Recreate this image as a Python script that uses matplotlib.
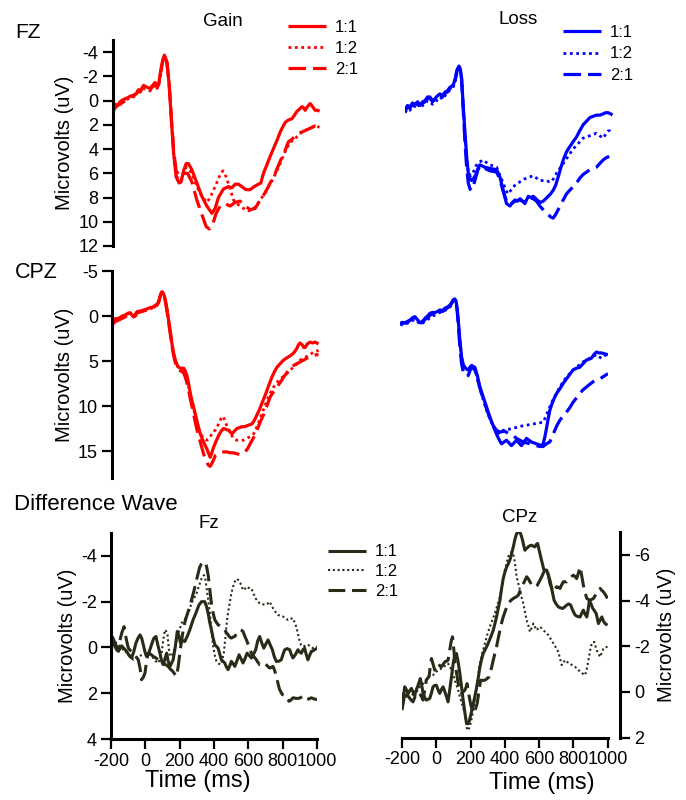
import matplotlib
matplotlib.use("Agg")
import matplotlib.pyplot as plt

plt.rcParams['font.family'] = ['Liberation Sans', 'DejaVu Sans']

# ---------------- data (time ms, microvolts) ----------------
gain_fz_11 = [(-200,0.6),(-185,0.3),(-170,0.4),(-156,0.1),(-135,-0.1),(-117,-0.2),(-98,-0.35),(-78,-0.45),(-60,-0.6),(-50,-0.9),(-40,-0.8),(-30,-1.0),(-20,-1.25),(0,-1.1),(18,-1.0),(35,-1.3),(47,-1.5),(58,-1.2),(67,-1.3),(80,-2.5),(92,-3.4),(101,-3.75),(115,-3.2),(128,-1.4),(140,1.3),(154,4.3),(169,6.3),(186,6.8),(198,6.7),(212,5.8),(227,5.2),(240,5.2),(260,5.7),(289,6.8),(318,7.9),(347,8.7),(376,9.3),(395,8.9),(414,8.0),(443,7.3),(472,7.1),(492,7.2),(511,6.9),(530,6.9),(550,7.1),(573,7.35),(598,7.35),(621,7.1),(646,6.9),(660,6.8),(675,6.0),(695,5.3),(714,4.6),(735,3.9),(753,3.3),(775,2.5),(801,1.8),(820,1.6),(840,1.5),(855,1.2),(869,0.9),(884,0.7),(898,0.5),(908,0.6),(917,0.8),(930,0.5),(946,0.25),(960,0.5),(975,0.8),(990,0.8),(1000,0.9)]
gain_fz_12 = [(-200,0.9),(-185,0.5),(-170,0.3),(-156,0.2),(-135,0.0),(-117,-0.1),(-98,-0.2),(-78,-0.3),(-60,-0.5),(-45,-1.0),(-35,-0.7),(-20,-1.0),(0,-0.9),(18,-0.8),(35,-1.1),(47,-1.3),(58,-1.0),(67,-1.2),(80,-2.2),(92,-3.2),(103,-3.6),(117,-3.0),(130,-1.2),(142,1.6),(156,4.5),(170,6.2),(186,6.6),(198,6.5),(212,5.9),(227,5.5),(240,5.6),(260,6.0),(289,7.1),(318,7.9),(347,8.4),(366,8.0),(395,7.1),(424,6.1),(440,5.8),(459,6.3),(482,7.3),(501,8.2),(530,8.6),(559,8.9),(588,9.1),(613,9.0),(637,8.6),(666,8.0),(695,7.35),(733,6.4),(772,5.2),(801,4.2),(830,3.4),(849,3.3),(868,3.0),(897,2.6),(926,2.4),(955,2.2),(980,2.1),(1000,2.2)]
gain_fz_21 = [(-200,1.0),(-185,0.6),(-170,0.4),(-156,0.3),(-135,0.1),(-117,-0.1),(-98,-0.3),(-78,-0.4),(-60,-0.6),(-50,-0.8),(-40,-0.7),(-25,-1.1),(0,-1.0),(18,-0.9),(35,-1.2),(47,-1.4),(58,-1.1),(67,-1.3),(80,-2.4),(92,-3.3),(102,-3.7),(116,-3.1),(129,-1.3),(141,1.4),(155,4.2),(169,5.8),(192,6.3),(212,6.0),(235,6.0),(260,6.7),(289,8.2),(318,9.4),(343,10.4),(362,10.6),(381,10.2),(401,9.3),(424,8.7),(453,8.5),(482,8.7),(511,8.4),(540,8.3),(569,8.7),(598,9.0),(627,8.9),(656,8.2),(685,7.6),(714,6.8),(743,6.0),(772,5.0),(801,4.1),(820,3.4),(840,3.2),(868,2.8),(897,2.6),(936,2.35),(974,2.1),(1000,2.2)]

loss_fz_11 = [(-200,0.7),(-185,0.4),(-171,0.55),(-157,0.2),(-142,0.3),(-127,0.1),(-113,0.4),(-98,0.1),(-84,0.0),(-70,-0.3),(-56,-0.3),(-41,0.0),(-27,-0.15),(-12,-0.4),(2,-0.55),(17,-0.4),(31,-0.7),(45,-0.8),(60,-1.1),(72,-1.2),(82,-1.4),(92,-1.9),(100,-2.5),(112,-2.85),(120,-2.6),(127,-1.9),(137,0.5),(147,2.7),(157,4.7),(166,6.0),(176,6.5),(185,6.6),(198,6.4),(210,6.1),(222,5.6),(233,5.3),(262,5.5),(291,5.6),(330,5.7),(349,6.3),(368,7.4),(387,8.5),(407,8.7),(422,8.4),(436,8.2),(450,8.3),(465,8.1),(480,8.3),(493,8.5),(503,8.2),(513,7.9),(528,8.0),(542,7.9),(557,8.1),(571,8.3),(585,8.4),(599,8.3),(614,8.1),(628,7.9),(642,7.7),(657,7.4),(671,7.0),(686,6.3),(700,5.6),(715,4.9),(735,4.2),(753,3.8),(772,3.4),(792,3.0),(810,2.5),(830,2.0),(850,1.7),(869,1.4),(888,1.3),(907,1.2),(926,1.2),(946,1.1),(960,1.0),(975,1.0),(990,1.1),(1000,1.2)]
loss_fz_12 = [(-200,1.0),(-185,0.7),(-171,0.8),(-157,0.4),(-142,0.5),(-127,0.3),(-113,0.6),(-98,0.4),(-84,0.3),(-70,0.0),(-56,0.1),(-41,0.3),(-27,0.2),(-12,-0.1),(2,-0.3),(17,-0.1),(31,-0.4),(45,-0.6),(60,-0.9),(72,-1.0),(82,-1.2),(92,-1.7),(100,-2.3),(112,-2.7),(120,-2.5),(128,-1.7),(138,0.7),(148,3.0),(158,5.0),(168,6.0),(180,6.2),(195,5.9),(210,5.4),(225,5.1),(240,5.0),(252,4.9),(270,5.1),(291,5.3),(312,5.4),(330,5.5),(349,6.2),(368,6.8),(383,7.4),(397,7.7),(412,7.4),(426,7.1),(446,6.9),(465,6.7),(484,6.5),(503,6.4),(522,6.3),(542,6.2),(561,6.4),(580,6.6),(599,6.6),(619,6.6),(633,6.7),(647,6.7),(661,6.4),(676,6.0),(695,5.6),(715,5.2),(734,4.8),(753,4.4),(772,4.0),(792,3.7),(811,3.4),(830,3.1),(850,3.0),(869,2.9),(888,2.8),(907,2.7),(926,2.9),(946,3.1),(960,2.8),(975,2.5),(985,2.5),(994,2.7)]
loss_fz_21 = [(-200,0.8),(-185,0.6),(-171,0.6),(-157,0.3),(-142,0.4),(-127,0.2),(-113,0.5),(-98,0.2),(-84,0.1),(-70,-0.2),(-56,-0.2),(-41,0.1),(-27,-0.1),(-12,-0.3),(2,-0.5),(17,-0.3),(31,-0.6),(45,-0.7),(60,-1.0),(72,-1.1),(82,-1.3),(92,-1.8),(100,-2.4),(112,-2.8),(120,-2.6),(127,-1.8),(137,0.8),(147,3.5),(157,5.6),(166,6.8),(176,7.3),(185,7.4),(198,6.9),(210,6.3),(222,5.7),(233,5.4),(262,5.6),(291,5.8),(330,5.9),(349,6.5),(368,7.5),(387,8.3),(407,8.6),(436,8.3),(465,8.2),(493,8.4),(513,8.0),(542,8.1),(561,8.3),(580,8.7),(599,9.0),(614,9.2),(628,9.4),(642,9.6),(657,9.7),(671,9.4),(686,9.0),(700,8.6),(715,8.2),(734,7.7),(753,7.4),(772,7.1),(792,6.8),(811,6.4),(830,6.1),(850,5.9),(869,5.7),(888,5.6),(907,5.5),(926,5.2),(946,4.9),(965,4.7),(984,4.6),(1000,4.5)]

gain_cpz_11 = [(-200,0.6),(-180,0.3),(-161,0.26),(-140,0.0),(-123,-0.1),(-108,-0.3),(-94,-0.37),(-84,-0.1),(-74,0.07),(-64,-0.2),(-55,-0.48),(-35,-0.55),(-16,-0.67),(4,-0.8),(23,-0.93),(38,-1.0),(52,-1.2),(62,-1.3),(71,-1.6),(78,-2.1),(84,-2.5),(90,-2.7),(96,-2.6),(103,-2.3),(110,-1.8),(120,-0.7),(129,0.45),(138,1.6),(148,3.0),(158,4.1),(168,4.9),(178,5.4),(187,5.7),(200,5.8),(216,5.8),(226,6.1),(235,6.6),(245,7.5),(255,8.6),(270,9.8),(284,10.9),(298,12.0),(313,13.1),(332,14.0),(352,14.8),(362,15.3),(371,15.7),(380,15.2),(390,14.6),(405,13.9),(419,13.3),(434,12.8),(448,12.5),(462,12.6),(477,12.7),(487,12.9),(497,13.1),(511,12.8),(526,12.5),(540,12.4),(555,12.3),(570,12.3),(584,12.2),(598,12.1),(613,12.0),(627,11.6),(642,11.0),(657,10.4),(671,9.7),(686,9.0),(700,8.3),(715,7.5),(729,6.8),(744,6.2),(758,5.7),(777,5.3),(797,4.9),(820,4.6),(845,4.3),(860,4.0),(874,3.6),(884,3.2),(893,3.0),(905,3.2),(915,3.5),(922,3.5),(935,3.1),(951,2.9),(965,3.0),(980,2.9),(990,3.0),(1000,3.1)]
gain_cpz_12 = [(-200,0.9),(-180,0.5),(-161,0.4),(-140,0.2),(-123,0.0),(-108,-0.2),(-94,-0.3),(-84,-0.2),(-74,0.0),(-64,-0.1),(-55,-0.4),(-35,-0.5),(-16,-0.6),(4,-0.7),(23,-0.8),(38,-0.9),(52,-1.1),(62,-1.2),(71,-1.5),(78,-2.0),(84,-2.4),(90,-2.6),(96,-2.5),(103,-2.2),(110,-1.7),(120,-0.6),(129,0.6),(138,1.8),(148,3.2),(158,4.3),(168,5.0),(178,5.5),(187,5.8),(200,5.9),(216,6.0),(226,6.4),(235,7.0),(245,7.8),(255,8.8),(270,10.0),(284,11.1),(298,12.2),(313,13.0),(332,13.6),(352,13.8),(371,13.4),(390,12.8),(400,12.7),(414,12.2),(429,11.6),(438,11.2),(448,11.2),(458,11.8),(468,12.2),(477,12.5),(491,13.1),(506,13.6),(525,13.8),(545,13.8),(565,13.8),(584,13.6),(603,13.4),(623,13.1),(642,12.3),(661,11.4),(680,10.4),(700,9.4),(719,8.6),(739,7.9),(758,7.4),(777,7.0),(797,6.7),(816,6.4),(835,6.0),(855,5.7),(874,5.3),(893,4.9),(913,4.7),(932,4.5),(951,4.3),(971,4.0),(990,3.9),(1000,3.8)]
gain_cpz_21 = [(-200,1.0),(-180,0.6),(-161,0.45),(-140,0.25),(-123,0.1),(-108,-0.15),(-94,-0.25),(-84,-0.1),(-74,0.1),(-64,0.0),(-55,-0.35),(-35,-0.45),(-16,-0.55),(4,-0.7),(23,-0.85),(38,-0.9),(52,-1.1),(62,-1.25),(71,-1.5),(78,-2.0),(84,-2.4),(90,-2.6),(96,-2.5),(103,-2.2),(110,-1.6),(120,-0.5),(129,0.7),(138,1.9),(148,3.3),(158,4.4),(168,5.2),(178,5.7),(187,6.0),(200,6.1),(216,6.3),(226,6.8),(235,7.4),(245,8.2),(255,9.2),(270,10.5),(284,11.8),(298,13.0),(313,14.0),(332,15.3),(347,16.1),(361,16.6),(371,16.7),(380,16.4),(390,16.0),(400,15.5),(414,15.3),(429,15.2),(448,15.1),(468,15.1),(487,15.2),(506,15.2),(525,15.3),(545,15.4),(560,15.3),(574,15.1),(589,14.7),(603,14.2),(623,13.5),(642,12.7),(661,11.8),(680,11.0),(700,10.0),(719,9.0),(739,8.4),(758,7.9),(777,7.4),(797,6.8),(816,6.3),(835,5.8),(855,5.5),(874,5.3),(893,5.1),(913,4.9),(932,4.7),(951,4.5),(971,4.4),(990,4.3),(1000,4.3)]

loss_cpz_11 = [(-200,0.8),(-185,0.8),(-171,0.74),(-157,0.6),(-142,0.45),(-128,0.2),(-114,0.07),(-100,0.4),(-85,0.74),(-70,0.6),(-56,0.26),(-41,0.0),(-27,-0.3),(-12,-0.4),(2,-0.37),(16,-0.5),(30,-0.67),(45,-0.6),(59,-0.86),(74,-1.0),(88,-1.2),(98,-1.5),(107,-1.8),(116,-1.9),(123,-1.7),(130,-0.8),(136,0.45),(146,2.8),(155,4.5),(165,5.4),(174,5.7),(184,5.9),(194,6.0),(203,5.7),(213,5.5),(223,5.6),(232,5.7),(246,6.6),(261,7.9),(280,9.0),(299,10.1),(318,11.2),(338,12.2),(352,12.9),(366,13.5),(376,13.9),(386,14.2),(400,14.0),(414,13.8),(429,14.1),(443,14.4),(458,14.1),(472,13.8),(486,14.1),(501,14.4),(515,14.0),(530,13.6),(544,13.8),(558,14.0),(573,14.1),(587,14.2),(602,14.3),(616,14.4),(626,14.2),(635,13.5),(645,12.5),(654,11.5),(664,10.5),(678,9.7),(693,9.0),(707,8.5),(722,8.1),(741,7.5),(760,7.0),(779,6.5),(798,6.0),(818,5.8),(837,5.7),(856,5.3),(875,4.9),(890,4.8),(904,4.7),(918,4.3),(933,4.0),(947,4.1),(962,4.1),(980,4.2),(1000,4.3)]
loss_cpz_12 = [(-200,0.9),(-185,1.0),(-171,0.9),(-157,0.8),(-142,0.7),(-128,0.5),(-114,0.4),(-100,0.6),(-85,0.9),(-70,0.8),(-56,0.6),(-41,0.4),(-27,0.2),(-12,0.0),(2,-0.1),(16,-0.2),(30,-0.4),(45,-0.4),(59,-0.6),(74,-0.8),(88,-1.0),(98,-1.3),(107,-1.6),(116,-1.8),(123,-1.6),(130,-0.7),(136,0.6),(146,2.9),(155,4.6),(165,5.5),(174,5.8),(184,6.0),(194,6.0),(203,5.8),(213,5.6),(223,5.8),(232,6.0),(246,6.9),(261,8.1),(280,9.3),(299,10.4),(318,11.4),(338,12.3),(357,12.8),(376,13.1),(395,12.7),(424,12.6),(453,12.5),(482,12.3),(510,12.2),(539,12.1),(568,12.0),(597,11.9),(626,11.8),(645,11.0),(664,10.1),(683,9.3),(702,8.6),(722,7.9),(741,7.3),(760,6.8),(779,6.4),(798,6.0),(818,5.7),(837,5.4),(856,5.1),(875,4.9),(894,4.7),(914,4.5),(933,4.3),(947,4.5),(962,4.7),(976,4.5),(990,4.3),(1000,4.3)]
loss_cpz_21 = [(-200,0.9),(-185,0.7),(-171,0.8),(-157,0.7),(-142,0.5),(-128,0.3),(-114,0.2),(-100,0.5),(-85,0.8),(-70,0.7),(-56,0.4),(-41,0.2),(-27,-0.1),(-12,-0.2),(2,-0.2),(16,-0.3),(30,-0.5),(45,-0.5),(59,-0.7),(74,-0.9),(88,-1.1),(98,-1.4),(107,-1.7),(116,-1.8),(123,-1.6),(130,-0.6),(136,1.0),(146,3.5),(155,5.3),(165,6.2),(174,6.6),(184,6.7),(194,6.6),(203,6.1),(213,5.7),(223,5.8),(232,6.0),(246,6.9),(261,8.0),(280,9.2),(299,10.3),(318,11.3),(338,12.2),(357,12.7),(376,12.9),(405,12.8),(429,13.1),(453,13.3),(472,13.6),(491,13.8),(510,14.0),(530,14.1),(549,14.2),(568,14.3),(587,14.4),(606,14.5),(626,14.5),(645,14.2),(664,14.0),(678,13.4),(693,12.7),(707,12.1),(722,11.6),(741,11.1),(760,10.7),(779,10.2),(798,9.6),(818,9.1),(837,8.6),(856,8.2),(875,7.9),(894,7.6),(914,7.3),(933,7.1),(952,7.0),(976,6.7),(1000,6.4)]

diff_fz_11 = [(-200,-0.19),(-188,-0.3),(-177,-0.04),(-167,0.1),(-157,0.17),(-148,0.05),(-138,-0.07),(-124,0.05),(-109,0.17),(-95,0.35),(-80,0.46),(-68,0.2),(-55,-0.19),(-43,-0.4),(-31,-0.55),(-21,-0.4),(-12,-0.12),(-2,0.2),(7,0.39),(22,0.2),(36,-0.12),(49,-0.4),(62,-0.48),(73,-0.1),(85,0.25),(95,0.6),(104,0.75),(114,0.5),(124,0.25),(133,0.6),(143,0.83),(152,0.7),(162,0.54),(174,0.0),(186,-0.7),(196,-0.5),(205,-0.19),(218,-0.3),(230,-0.26),(245,-0.5),(259,-0.77),(278,-1.2),(298,-1.57),(312,-1.85),(327,-2.0),(346,-2.0),(356,-1.8),(366,-1.49),(375,-1.1),(385,-0.77),(395,-0.4),(405,-0.12),(424,0.03),(434,0.3),(443,0.54),(463,0.68),(472,0.85),(482,0.97),(492,0.8),(501,0.61),(511,0.7),(521,0.83),(533,0.6),(546,0.32),(558,0.5),(569,0.68),(580,0.5),(593,0.25),(605,0.35),(618,0.46),(630,0.3),(643,0.1),(655,-0.3),(666,-0.48),(678,-0.2),(690,0.03),(702,-0.15),(715,-0.33),(728,-0.1),(740,0.1),(751,0.4),(763,0.61),(778,0.6),(792,0.54),(802,0.3),(812,0.1),(826,0.05),(841,0.1),(850,0.3),(860,0.46),(875,0.3),(889,0.1),(899,0.2),(909,0.25),(918,0.1),(928,0.03),(937,0.3),(947,0.54),(957,0.35),(967,0.17),(976,0.15),(986,0.1),(1000,0.03)]
diff_fz_12 = [(-200,-0.33),(-184,-0.3),(-167,-0.19),(-148,-0.05),(-128,0.1),(-114,0.2),(-99,0.25),(-85,0.4),(-70,0.54),(-55,0.45),(-41,0.39),(-27,0.35),(-12,0.32),(3,0.3),(17,0.25),(32,0.35),(46,0.46),(60,0.6),(75,0.68),(85,0.5),(95,0.25),(104,-0.3),(114,-0.77),(122,-0.7),(129,-0.55),(136,0.0),(143,0.39),(152,0.35),(162,0.25),(172,0.0),(182,-0.33),(196,-0.7),(211,-1.06),(226,-1.2),(240,-1.35),(255,-1.6),(269,-1.93),(284,-2.15),(298,-2.36),(313,-2.7),(327,-3.0),(341,-3.16),(349,-3.0),(356,-2.65),(366,-2.1),(376,-1.49),(385,-0.8),(395,-0.04),(405,0.35),(414,0.61),(426,0.7),(438,0.75),(447,0.6),(457,0.25),(466,-0.4),(476,-1.2),(488,-1.8),(501,-2.36),(511,-2.65),(521,-2.87),(528,-2.95),(536,-3.0),(545,-2.9),(554,-2.8),(562,-2.65),(569,-2.5),(579,-2.55),(589,-2.65),(603,-2.6),(618,-2.58),(630,-2.35),(643,-2.14),(655,-2.0),(666,-1.93),(680,-1.9),(695,-1.86),(710,-1.9),(724,-2.0),(734,-1.85),(744,-1.71),(758,-1.55),(773,-1.42),(787,-1.38),(802,-1.35),(816,-1.28),(831,-1.2),(845,-1.25),(860,-1.28),(869,-1.1),(879,-0.91),(889,-0.6),(899,-0.26),(908,-0.1),(918,-0.04),(932,-0.08),(947,-0.12),(961,-0.05),(976,0.03),(988,0.0),(1000,-0.04)]
diff_fz_21 = [(-200,-0.55),(-188,-0.4),(-177,-0.19),(-167,-0.05),(-157,0.03),(-148,-0.3),(-138,-0.62),(-124,-0.91),(-112,-0.4),(-99,0.03),(-85,0.15),(-70,0.25),(-55,0.4),(-41,0.54),(-31,0.9),(-22,1.41),(-12,1.3),(-2,1.12),(7,0.6),(17,0.25),(32,0.3),(46,0.39),(60,0.45),(75,0.54),(90,0.6),(104,0.68),(118,0.75),(133,0.83),(146,0.95),(159,1.04),(170,1.15),(182,1.26),(192,0.8),(201,0.25),(211,-0.3),(221,-0.77),(230,-1.1),(240,-1.35),(255,-1.7),(269,-2.07),(284,-2.5),(298,-2.94),(308,-3.25),(317,-3.52),(327,-3.65),(337,-3.74),(352,-3.67),(359,-3.45),(366,-3.16),(376,-2.5),(385,-1.93),(395,-1.5),(405,-1.2),(414,-1.1),(424,-0.99),(434,-0.95),(443,-0.91),(453,-0.85),(463,-0.77),(472,-0.65),(482,-0.55),(492,-0.45),(501,-0.41),(511,-0.45),(521,-0.48),(535,-0.65),(550,-0.77),(560,-0.75),(569,-0.7),(579,-0.5),(589,-0.33),(603,-0.05),(618,0.25),(632,0.4),(647,0.54),(656,0.65),(666,0.75),(680,0.72),(695,0.68),(710,0.8),(724,0.9),(734,0.87),(744,0.83),(753,1.0),(763,1.26),(772,1.55),(782,1.84),(790,1.95),(798,2.06),(810,2.1),(821,2.13),(829,2.25),(837,2.35),(848,2.3),(860,2.2),(875,2.22),(889,2.23),(903,2.2),(918,2.13),(928,2.2),(938,2.28),(952,2.25),(967,2.2),(983,2.25),(1000,2.28)]

diff_cpz_11 = [(-200,0.66),(-192,0.2),(-184,-0.22),(-175,-0.1),(-165,0.07),(-155,-0.05),(-145,-0.15),(-136,0.0),(-126,0.15),(-116,-0.1),(-106,-0.29),(-99,-0.45),(-93,-0.58),(-85,-0.3),(-77,0.07),(-68,0.25),(-58,0.36),(-48,0.33),(-38,0.29),(-28,0.05),(-19,-0.22),(-9,-0.28),(1,-0.29),(10,-0.1),(20,0.07),(30,-0.1),(40,-0.22),(55,0.1),(69,0.44),(79,-0.1),(89,-0.66),(98,-1.2),(108,-1.61),(118,-1.68),(128,-1.3),(138,-0.8),(148,-0.2),(157,0.36),(167,0.9),(177,1.39),(185,1.4),(192,1.31),(202,1.0),(212,0.66),(224,0.25),(235,-0.15),(245,-0.6),(255,-1.09),(264,-1.4),(274,-1.68),(289,-1.9),(303,-2.12),(318,-2.4),(333,-2.7),(343,-3.0),(352,-3.28),(362,-3.65),(372,-4.01),(381,-4.5),(391,-4.96),(401,-5.25),(411,-5.47),(420,-5.6),(430,-5.77),(440,-6.05),(450,-6.35),(460,-6.7),(469,-6.93),(479,-7.0),(489,-7.0),(496,-6.85),(504,-6.64),(511,-6.4),(518,-6.2),(527,-6.28),(537,-6.35),(547,-6.4),(557,-6.42),(566,-6.38),(576,-6.35),(584,-6.45),(592,-6.5),(601,-6.2),(610,-5.91),(620,-5.6),(629,-5.33),(637,-5.33),(645,-5.33),(655,-5.1),(664,-4.89),(676,-4.45),(688,-4.01),(700,-3.85),(713,-3.72),(725,-3.68),(738,-3.65),(750,-3.72),(762,-3.8),(774,-3.85),(785,-3.8),(798,-3.55),(811,-3.36),(825,-3.3),(840,-3.28),(850,-3.45),(859,-3.58),(869,-3.4),(879,-3.28),(887,-3.6),(894,-4.01),(904,-3.85),(914,-3.65),(924,-3.55),(934,-3.43),(941,-3.2),(947,-2.99),(957,-3.15),(967,-3.28),(976,-3.1),(986,-2.99),(1000,-2.92)]
diff_cpz_12 = [(-200,0.07),(-188,0.15),(-175,0.22),(-165,0.1),(-155,0.0),(-140,0.1),(-126,0.22),(-116,0.05),(-106,-0.15),(-92,-0.25),(-77,-0.36),(-62,-0.5),(-48,-0.66),(-33,-0.7),(-19,-0.73),(-4,-0.85),(11,-0.95),(25,-1.0),(40,-1.09),(55,-1.15),(69,-1.24),(79,-1.1),(89,-0.95),(98,-0.75),(108,-0.51),(118,-0.3),(128,-0.07),(137,0.2),(147,0.44),(157,0.7),(167,0.95),(174,1.3),(180,1.68),(188,1.65),(196,1.53),(206,1.2),(216,0.8),(226,0.3),(235,-0.22),(245,-0.7),(255,-1.24),(269,-1.7),(284,-2.12),(298,-2.5),(313,-2.85),(328,-3.15),(342,-3.43),(357,-3.8),(372,-4.16),(386,-4.75),(401,-5.33),(410,-5.6),(420,-5.91),(430,-6.05),(440,-6.13),(447,-6.05),(454,-5.91),(462,-5.5),(469,-5.04),(479,-4.75),(489,-4.45),(498,-4.15),(508,-3.87),(518,-3.5),(528,-3.14),(538,-2.9),(547,-2.63),(557,-2.8),(567,-2.99),(576,-2.85),(586,-2.7),(596,-2.78),(606,-2.85),(615,-2.78),(625,-2.7),(640,-2.6),(655,-2.48),(670,-2.3),(684,-2.12),(698,-1.95),(713,-1.75),(723,-1.45),(733,-1.17),(742,-1.28),(752,-1.39),(766,-1.3),(781,-1.24),(796,-1.15),(811,-1.09),(825,-1.0),(840,-0.88),(855,-0.8),(869,-0.73),(879,-1.0),(889,-1.39),(898,-1.8),(908,-2.12),(915,-2.15),(922,-2.19),(932,-1.95),(941,-1.75),(949,-1.65),(957,-1.53),(966,-1.7),(976,-1.9),(988,-1.95),(1000,-1.97)]
diff_cpz_21 = [(-200,0.8),(-190,0.35),(-180,-0.07),(-170,0.1),(-161,0.22),(-148,0.35),(-136,0.44),(-126,0.25),(-116,0.07),(-106,0.05),(-97,0.07),(-87,0.2),(-77,0.36),(-67,-0.1),(-58,-0.51),(-50,-0.6),(-42,-0.66),(-35,-1.1),(-28,-1.46),(-18,-1.2),(-9,-0.95),(1,-1.1),(11,-1.24),(20,-1.15),(30,-1.09),(40,-1.2),(50,-1.31),(60,-1.35),(69,-1.39),(77,-1.75),(85,-2.12),(90,-2.3),(95,-2.41),(102,-1.9),(108,-1.39),(118,-0.85),(128,-0.36),(138,-0.1),(147,0.07),(157,0.0),(167,-0.07),(174,-0.2),(180,-0.36),(190,0.1),(200,0.51),(210,0.8),(219,0.95),(229,0.75),(239,0.51),(249,0.0),(259,-0.51),(271,-0.5),(284,-0.51),(297,-0.58),(309,-0.66),(321,-1.0),(333,-1.39),(343,-1.7),(352,-1.97),(362,-2.35),(372,-2.7),(381,-3.0),(391,-3.28),(406,-3.6),(420,-3.87),(435,-4.0),(450,-4.09),(465,-4.15),(479,-4.23),(491,-4.45),(504,-4.67),(516,-4.85),(528,-5.04),(538,-4.95),(547,-4.82),(557,-4.7),(567,-4.6),(578,-4.62),(590,-4.67),(603,-4.85),(616,-5.04),(625,-5.2),(635,-5.33),(642,-5.35),(649,-5.33),(656,-5.05),(664,-4.74),(674,-4.55),(684,-4.38),(693,-4.5),(703,-4.6),(713,-4.58),(723,-4.53),(732,-4.68),(742,-4.82),(752,-4.82),(762,-4.82),(771,-4.9),(781,-4.96),(791,-5.05),(801,-5.11),(810,-5.05),(820,-4.96),(830,-5.2),(840,-5.47),(849,-5.1),(859,-4.67),(869,-4.35),(879,-4.09),(888,-4.05),(898,-4.01),(908,-4.05),(918,-4.09),(927,-4.2),(937,-4.31),(947,-4.42),(957,-4.53),(966,-4.45),(976,-4.38),(988,-4.25),(1000,-4.09)]

ratio_labels = ['1:1', '1:2', '2:1']
fz_gain_ticks = [-4, -2, 0, 2, 4, 6, 8, 10, 12]
cpz_ticks = [-5, 0, 5, 10, 15]
diff_fz_ticks = [-4, -2, 0, 2, 4]
diff_cpz_ticks = [-6, -4, -2, 0, 2]
time_ticks = [-200, 0, 200, 400, 600, 800, 1000]

# ---------------- styling ----------------
RED = '#ff0000'
BLUE = '#0000ff'
DARK = '#2a2a18'
SOLID = '-'
DOT = (0, (1, 1.3))
DASH = (0, (5.5, 2.2))
TICK_SIZE = 13

W, H = 686, 800
fig = plt.figure(figsize=(W / 100, H / 100), dpi=100)


def ax_at(x0, y0, x1, y1):
    return fig.add_axes([x0 / W, 1 - y1 / H, (x1 - x0) / W, (y1 - y0) / H])


def split(pairs):
    return [p[0] for p in pairs], [p[1] for p in pairs]


def draw(ax, series, color, lws):
    handles = []
    for s, ls, lw, lab in zip(series, [SOLID, DOT, DASH], lws, ratio_labels):
        t, v = split(s)
        ln, = ax.plot(t, v, color=color, ls=ls, lw=lw, label=lab,
                      solid_capstyle='butt', dash_capstyle='butt')
        handles.append(ln)
    return handles


def style_axis(ax, show_left=False, show_bottom=False, show_right=False):
    for side in ['top', 'right', 'left', 'bottom']:
        ax.spines[side].set_visible(False)
    ax.set_facecolor('none')
    ax.tick_params(axis='both', direction='out', length=7, width=1.6,
                   labelsize=TICK_SIZE, color='black', pad=3)
    if show_left:
        ax.spines['left'].set_visible(True)
        ax.spines['left'].set_linewidth(2.2)
    else:
        ax.tick_params(axis='y', left=False, labelleft=False)
    if show_right:
        ax.spines['right'].set_visible(True)
        ax.spines['right'].set_linewidth(2.2)
        ax.spines['right'].set_position(('outward', 9))
        ax.yaxis.tick_right()
        ax.yaxis.set_label_position('right')
    if show_bottom:
        ax.spines['bottom'].set_visible(True)
        ax.spines['bottom'].set_linewidth(2.2)
    else:
        ax.tick_params(axis='x', bottom=False, labelbottom=False)
    ax.set_xlim(-200, 1000)


def fmt(vals):
    return [str(v) for v in vals]


YLAB_SIZE = 14.5
XLAB_SIZE = 17
LW = [2.3, 2.0, 2.3]
LW_DIFF = [2.2, 1.5, 2.2]

# --- FZ Gain ---
ax1 = ax_at(112.5, 40, 319.5, 246)
style_axis(ax1, show_left=True)
h_gain = draw(ax1, [gain_fz_11, gain_fz_12, gain_fz_21], RED, LW)
ax1.set_ylim(12, -5)
ax1.set_yticks(fz_gain_ticks)
ax1.set_yticklabels(fmt(fz_gain_ticks))
ax1.set_ylabel('Microvolts (uV)', fontsize=YLAB_SIZE, labelpad=3)

# --- FZ Loss ---
ax2 = ax_at(405, 40, 612.5, 246)
style_axis(ax2)
h_loss = draw(ax2, [loss_fz_11, loss_fz_12, loss_fz_21], BLUE, LW)
ax2.set_ylim(12, -5)

# --- CPZ Gain ---
ax3 = ax_at(112, 271, 318.5, 478)
style_axis(ax3, show_left=True)
draw(ax3, [gain_cpz_11, gain_cpz_12, gain_cpz_21], RED, LW)
ax3.set_ylim(18, -5)
ax3.set_yticks(cpz_ticks)
ax3.set_yticklabels(fmt(cpz_ticks))
ax3.set_ylabel('Microvolts (uV)', fontsize=YLAB_SIZE, labelpad=3)

# --- CPZ Loss ---
ax4 = ax_at(400, 271, 608, 478)
style_axis(ax4)
draw(ax4, [loss_cpz_11, loss_cpz_12, loss_cpz_21], BLUE, LW)
ax4.set_ylim(18, -5)

# --- Difference wave Fz ---
ax5 = ax_at(111, 533, 317, 739)
style_axis(ax5, show_left=True, show_bottom=True)
h_diff = draw(ax5, [diff_fz_11, diff_fz_12, diff_fz_21], DARK, LW_DIFF)
ax5.set_ylim(4, -5)
ax5.set_yticks(diff_fz_ticks)
ax5.set_yticklabels(fmt(diff_fz_ticks))
ax5.set_xticks(time_ticks)
ax5.set_xticklabels(fmt(time_ticks))
ax5.set_ylabel('Microvolts (uV)', fontsize=YLAB_SIZE, labelpad=3)
ax5.set_xlabel('Time (ms)', fontsize=XLAB_SIZE)
ax5.xaxis.set_label_coords((198 - 111) / 206, -(781 - 739) / 206, transform=ax5.transAxes)
ax5.xaxis.label.set_va('center')

# --- Difference wave CPz ---
ax6 = ax_at(402, 532, 607.5, 737.5)
style_axis(ax6, show_bottom=True, show_right=True)
draw(ax6, [diff_cpz_11, diff_cpz_12, diff_cpz_21], DARK, LW_DIFF)
ax6.set_ylim(2, -7)
ax6.set_yticks(diff_cpz_ticks)
ax6.set_yticklabels(fmt(diff_cpz_ticks))
ax6.tick_params(axis='y', right=True, labelright=True, left=False, labelleft=False)
ax6.set_xticks(time_ticks)
ax6.set_xticklabels(fmt(time_ticks))
ax6.set_ylabel('Microvolts (uV)', fontsize=YLAB_SIZE, labelpad=5, rotation=90)
ax6.set_xlabel('Time (ms)', fontsize=XLAB_SIZE)
ax6.xaxis.set_label_coords((542 - 402) / 205.5, -(783 - 737.5) / 205.5, transform=ax6.transAxes)
ax6.xaxis.label.set_va('center')

# ---------------- texts ----------------
def ftext(x, y, s, size, ha='left'):
    fig.text(x / W, 1 - y / H, s, fontsize=size, ha=ha, va='center')

ftext(15, 33, 'FZ', 15)
ftext(15, 272, 'CPZ', 15.5)
ftext(14, 505, 'Difference Wave', 16)
ftext(223, 21, 'Gain', 13.5, ha='center')
ftext(518, 19, 'Loss', 13.5, ha='center')
ftext(209, 523, 'Fz', 13.5, ha='center')
ftext(520, 517, 'CPz', 13.5, ha='center')

# ---------------- legends ----------------
def add_legend(handles, x, y, spacing):
    fig.legend(handles, ratio_labels, loc='upper left',
               bbox_to_anchor=(x / W, 1 - y / H), frameon=False,
               fontsize=12, handlelength=2.3, handletextpad=0.5,
               labelspacing=spacing, borderpad=0, borderaxespad=0)

add_legend(h_gain, 288, 19.5, 0.38)
add_legend(h_loss, 563, 25, 0.38)
add_legend(h_diff, 328, 544.5, 0.28)

fig.savefig('out.png', dpi=100)
